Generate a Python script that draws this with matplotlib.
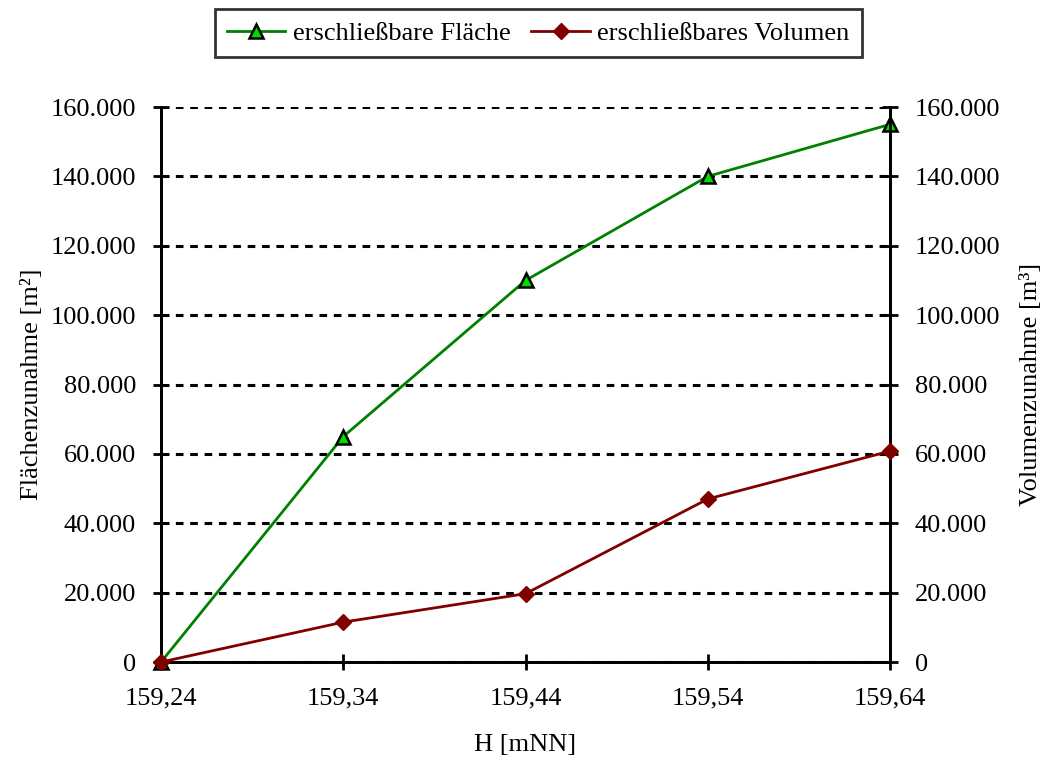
import matplotlib.pyplot as plt
from matplotlib.ticker import FuncFormatter

plt.rcParams["font.family"] = ["Liberation Serif", "DejaVu Serif"]
plt.rcParams["font.size"] = 19

hoehe = [159.24, 159.34, 159.44, 159.54, 159.64]
flaeche = [0, 65000, 110000, 140000, 155000]
volumen = [0, 11500, 19700, 47000, 60800]
y_ticks = list(range(0, 160001, 20000))


def tausender(v, pos):
    return f"{int(round(v)):,}".replace(",", ".")


def komma(v, pos):
    return f"{v:.2f}".replace(".", ",")


fig = plt.figure(figsize=(10.43, 7.6), dpi=100)
ax = fig.add_axes([0.1544, 0.1289, 0.6989, 0.7303])
ax2 = ax.twinx()

ax.plot(hoehe, flaeche, color="#008000", lw=2, marker="^", ms=10,
        mfc="#00dd00", mec="black", mew=1.8, clip_on=False, zorder=5,
        label="erschließbare Fläche")
ax2.plot(hoehe, volumen, color="#800000", lw=2, marker="D", ms=8,
         mfc="#800000", mec="#800000", clip_on=False, zorder=5,
         label="erschließbares Volumen")

for a in (ax, ax2):
    a.set_ylim(0, 160000)
    a.set_yticks(y_ticks)
    a.yaxis.set_major_formatter(FuncFormatter(tausender))
    a.tick_params(axis="y", direction="inout", length=12, width=2, pad=12)
    a.spines["top"].set_visible(False)
    for s in a.spines.values():
        s.set_linewidth(2)

ax.set_xlim(159.24, 159.64)
ax.set_xticks(hoehe)
ax.xaxis.set_major_formatter(FuncFormatter(komma))
ax.tick_params(axis="x", direction="inout", length=12, width=2, pad=12)

ax.yaxis.grid(True, color="black", lw=2.2, linestyle=(0, (2.5, 2.2)))
ax.set_axisbelow(True)
ax2.set_zorder(ax.get_zorder() + 1)
ax2.patch.set_visible(False)

ax.set_xlabel("H [mNN]", labelpad=18)
ax.set_ylabel("Flächenzunahme [m²]", labelpad=5)
ax2.set_ylabel("Volumenzunahme [m³]", labelpad=14)

h1, l1 = ax.get_legend_handles_labels()
h2, l2 = ax2.get_legend_handles_labels()
leg = fig.legend(h1 + h2, l1 + l2, loc="upper center", ncol=2,
                 bbox_to_anchor=(0.516, 1.005), frameon=True, fancybox=False,
                 edgecolor="black", handlelength=2.2, handletextpad=0.3,
                 columnspacing=0.8, borderpad=0.45)
leg.get_frame().set_linewidth(2)

fig.savefig("out.png", dpi=100)
